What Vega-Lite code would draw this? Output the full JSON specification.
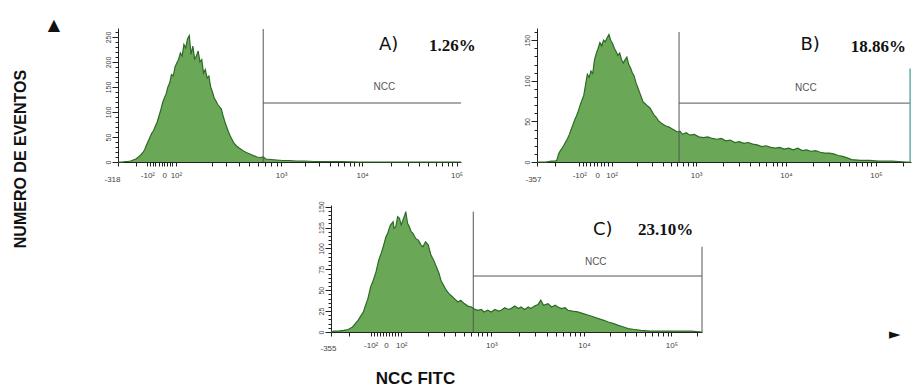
{
  "$schema": "https://vega.github.io/schema/vega-lite/v6.json",
  "background": "white",
  "padding": {"left": 12, "top": 17, "right": 0, "bottom": 0},
  "title": {"text": "NUMERO DE EVENTOS", "orient": "left", "anchor": "middle", "font": "Liberation Sans", "fontSize": 16, "fontWeight": "bold", "color": "#111", "offset": 19, "frame": "group", "dx": -131},
  "config": {
    "view": {"stroke": null},
    "axis": {"grid": false, "domainColor": "#222", "tickColor": "#222", "labelColor": "#444", "labelFont": "Liberation Sans", "labelFontSize": 7, "domainWidth": 1, "tickWidth": 1}
  },
  "datasets": {
    "A": [
      {"x": 0, "y": 0}, {"x": 0.05, "y": 0}, {"x": 0.08, "y": 1}, {"x": 0.11, "y": 1}, {"x": 0.14, "y": 2}, {"x": 0.17, "y": 4},
      {"x": 0.2, "y": 6}, {"x": 0.23, "y": 10}, {"x": 0.26, "y": 15}, {"x": 0.28, "y": 19}, {"x": 0.3, "y": 25}, {"x": 0.32, "y": 34},
      {"x": 0.34, "y": 42}, {"x": 0.36, "y": 50}, {"x": 0.38, "y": 58}, {"x": 0.4, "y": 63}, {"x": 0.42, "y": 72}, {"x": 0.44, "y": 80},
      {"x": 0.46, "y": 92}, {"x": 0.48, "y": 104}, {"x": 0.5, "y": 118}, {"x": 0.52, "y": 128}, {"x": 0.54, "y": 136}, {"x": 0.56, "y": 150},
      {"x": 0.58, "y": 158}, {"x": 0.6, "y": 175}, {"x": 0.62, "y": 172}, {"x": 0.64, "y": 190}, {"x": 0.66, "y": 198}, {"x": 0.68, "y": 205},
      {"x": 0.7, "y": 218}, {"x": 0.72, "y": 212}, {"x": 0.74, "y": 235}, {"x": 0.76, "y": 228}, {"x": 0.78, "y": 246}, {"x": 0.8, "y": 253},
      {"x": 0.82, "y": 215}, {"x": 0.84, "y": 232}, {"x": 0.86, "y": 206}, {"x": 0.88, "y": 212}, {"x": 0.9, "y": 222}, {"x": 0.92, "y": 200},
      {"x": 0.94, "y": 205}, {"x": 0.96, "y": 178}, {"x": 0.98, "y": 185}, {"x": 1.0, "y": 168}, {"x": 1.02, "y": 172}, {"x": 1.04, "y": 150},
      {"x": 1.06, "y": 140}, {"x": 1.08, "y": 128}, {"x": 1.1, "y": 122}, {"x": 1.12, "y": 115}, {"x": 1.14, "y": 110}, {"x": 1.16, "y": 106},
      {"x": 1.18, "y": 92}, {"x": 1.2, "y": 80}, {"x": 1.22, "y": 70}, {"x": 1.24, "y": 60}, {"x": 1.26, "y": 52}, {"x": 1.28, "y": 45},
      {"x": 1.3, "y": 38}, {"x": 1.33, "y": 32}, {"x": 1.36, "y": 28}, {"x": 1.4, "y": 23}, {"x": 1.44, "y": 19}, {"x": 1.48, "y": 16},
      {"x": 1.52, "y": 13}, {"x": 1.56, "y": 10}, {"x": 1.6, "y": 9}, {"x": 1.63, "y": 10}, {"x": 1.66, "y": 6}, {"x": 1.72, "y": 5},
      {"x": 1.78, "y": 4}, {"x": 1.85, "y": 3}, {"x": 1.92, "y": 3}, {"x": 2.0, "y": 2}, {"x": 2.1, "y": 2}, {"x": 2.2, "y": 1},
      {"x": 2.35, "y": 1}, {"x": 2.5, "y": 1}, {"x": 2.7, "y": 0}, {"x": 3.0, "y": 0}, {"x": 3.85, "y": 0}
    ],
    "B": [
      {"x": 0, "y": 0}, {"x": 0.1, "y": 0}, {"x": 0.16, "y": 1}, {"x": 0.2, "y": 1}, {"x": 0.22, "y": 2}, {"x": 0.24, "y": 10},
      {"x": 0.26, "y": 14}, {"x": 0.28, "y": 17}, {"x": 0.3, "y": 21}, {"x": 0.32, "y": 25}, {"x": 0.34, "y": 29}, {"x": 0.36, "y": 34},
      {"x": 0.38, "y": 40}, {"x": 0.4, "y": 46}, {"x": 0.42, "y": 52}, {"x": 0.44, "y": 57}, {"x": 0.46, "y": 63}, {"x": 0.48, "y": 70},
      {"x": 0.5, "y": 76}, {"x": 0.52, "y": 82}, {"x": 0.54, "y": 95}, {"x": 0.56, "y": 108}, {"x": 0.58, "y": 104}, {"x": 0.6, "y": 112},
      {"x": 0.62, "y": 109}, {"x": 0.64, "y": 126}, {"x": 0.66, "y": 134}, {"x": 0.68, "y": 140}, {"x": 0.7, "y": 147}, {"x": 0.72, "y": 143},
      {"x": 0.74, "y": 150}, {"x": 0.76, "y": 148}, {"x": 0.78, "y": 153}, {"x": 0.8, "y": 157}, {"x": 0.82, "y": 150}, {"x": 0.84, "y": 146},
      {"x": 0.86, "y": 140}, {"x": 0.88, "y": 136}, {"x": 0.9, "y": 131}, {"x": 0.92, "y": 134}, {"x": 0.94, "y": 126}, {"x": 0.96, "y": 122},
      {"x": 0.98, "y": 126}, {"x": 1.0, "y": 129}, {"x": 1.02, "y": 120}, {"x": 1.04, "y": 116}, {"x": 1.06, "y": 110}, {"x": 1.08, "y": 106},
      {"x": 1.1, "y": 98}, {"x": 1.12, "y": 92}, {"x": 1.14, "y": 86}, {"x": 1.16, "y": 80}, {"x": 1.18, "y": 74}, {"x": 1.2, "y": 72},
      {"x": 1.22, "y": 70}, {"x": 1.24, "y": 68}, {"x": 1.26, "y": 66}, {"x": 1.28, "y": 62}, {"x": 1.3, "y": 58}, {"x": 1.32, "y": 56},
      {"x": 1.35, "y": 51}, {"x": 1.38, "y": 48}, {"x": 1.41, "y": 46}, {"x": 1.44, "y": 44}, {"x": 1.47, "y": 43}, {"x": 1.5, "y": 41},
      {"x": 1.53, "y": 39}, {"x": 1.56, "y": 37}, {"x": 1.59, "y": 38}, {"x": 1.62, "y": 34}, {"x": 1.66, "y": 36}, {"x": 1.7, "y": 33},
      {"x": 1.75, "y": 34}, {"x": 1.8, "y": 31}, {"x": 1.85, "y": 30}, {"x": 1.9, "y": 31}, {"x": 1.95, "y": 29}, {"x": 2.0, "y": 28},
      {"x": 2.05, "y": 29}, {"x": 2.1, "y": 26}, {"x": 2.15, "y": 27}, {"x": 2.2, "y": 24}, {"x": 2.25, "y": 25}, {"x": 2.3, "y": 23},
      {"x": 2.35, "y": 24}, {"x": 2.4, "y": 22}, {"x": 2.45, "y": 21}, {"x": 2.5, "y": 19}, {"x": 2.55, "y": 20}, {"x": 2.6, "y": 18},
      {"x": 2.65, "y": 17}, {"x": 2.7, "y": 18}, {"x": 2.75, "y": 16}, {"x": 2.8, "y": 17}, {"x": 2.85, "y": 15}, {"x": 2.9, "y": 17},
      {"x": 2.95, "y": 14}, {"x": 3.0, "y": 15}, {"x": 3.05, "y": 13}, {"x": 3.1, "y": 14}, {"x": 3.15, "y": 12}, {"x": 3.2, "y": 11},
      {"x": 3.25, "y": 11}, {"x": 3.3, "y": 10}, {"x": 3.35, "y": 8}, {"x": 3.4, "y": 7}, {"x": 3.45, "y": 5}, {"x": 3.5, "y": 3},
      {"x": 3.6, "y": 2}, {"x": 3.7, "y": 2}, {"x": 3.8, "y": 1}, {"x": 3.95, "y": 1}, {"x": 4.1, "y": 0}, {"x": 4.16, "y": 0}
    ],
    "C": [
      {"x": 0, "y": 0}, {"x": 0.03, "y": 1}, {"x": 0.08, "y": 1}, {"x": 0.14, "y": 2}, {"x": 0.19, "y": 3}, {"x": 0.24, "y": 6},
      {"x": 0.27, "y": 10}, {"x": 0.3, "y": 14}, {"x": 0.33, "y": 19}, {"x": 0.36, "y": 24}, {"x": 0.38, "y": 31}, {"x": 0.41, "y": 40},
      {"x": 0.44, "y": 54}, {"x": 0.47, "y": 62}, {"x": 0.5, "y": 72}, {"x": 0.53, "y": 86}, {"x": 0.56, "y": 95}, {"x": 0.58, "y": 102},
      {"x": 0.6, "y": 110}, {"x": 0.61, "y": 114}, {"x": 0.63, "y": 118}, {"x": 0.64, "y": 122}, {"x": 0.66, "y": 128}, {"x": 0.69, "y": 132},
      {"x": 0.7, "y": 124}, {"x": 0.72, "y": 126}, {"x": 0.74, "y": 138}, {"x": 0.76, "y": 136}, {"x": 0.78, "y": 128}, {"x": 0.8, "y": 134},
      {"x": 0.82, "y": 140}, {"x": 0.83, "y": 144}, {"x": 0.85, "y": 130}, {"x": 0.87, "y": 126}, {"x": 0.89, "y": 120}, {"x": 0.91, "y": 118},
      {"x": 0.94, "y": 112}, {"x": 0.97, "y": 110}, {"x": 1.0, "y": 104}, {"x": 1.02, "y": 102}, {"x": 1.05, "y": 108}, {"x": 1.08, "y": 104},
      {"x": 1.11, "y": 92}, {"x": 1.14, "y": 86}, {"x": 1.17, "y": 78}, {"x": 1.2, "y": 70}, {"x": 1.22, "y": 62}, {"x": 1.25, "y": 56},
      {"x": 1.28, "y": 50}, {"x": 1.31, "y": 46}, {"x": 1.33, "y": 44}, {"x": 1.37, "y": 40}, {"x": 1.41, "y": 36}, {"x": 1.44, "y": 38},
      {"x": 1.48, "y": 34}, {"x": 1.52, "y": 31}, {"x": 1.56, "y": 30}, {"x": 1.6, "y": 27}, {"x": 1.63, "y": 26}, {"x": 1.67, "y": 27},
      {"x": 1.7, "y": 24}, {"x": 1.74, "y": 26}, {"x": 1.78, "y": 24}, {"x": 1.82, "y": 27}, {"x": 1.86, "y": 25}, {"x": 1.89, "y": 26},
      {"x": 1.93, "y": 29}, {"x": 1.97, "y": 27}, {"x": 2.0, "y": 28}, {"x": 2.04, "y": 31}, {"x": 2.08, "y": 28}, {"x": 2.11, "y": 30},
      {"x": 2.15, "y": 27}, {"x": 2.19, "y": 30}, {"x": 2.22, "y": 28}, {"x": 2.26, "y": 31}, {"x": 2.3, "y": 33}, {"x": 2.33, "y": 38},
      {"x": 2.36, "y": 32}, {"x": 2.41, "y": 34}, {"x": 2.45, "y": 30}, {"x": 2.49, "y": 32}, {"x": 2.52, "y": 30}, {"x": 2.56, "y": 28},
      {"x": 2.6, "y": 29}, {"x": 2.63, "y": 26}, {"x": 2.68, "y": 25}, {"x": 2.74, "y": 24}, {"x": 2.8, "y": 22}, {"x": 2.86, "y": 20},
      {"x": 2.92, "y": 18}, {"x": 2.97, "y": 16}, {"x": 3.03, "y": 14}, {"x": 3.08, "y": 12}, {"x": 3.14, "y": 10}, {"x": 3.19, "y": 8},
      {"x": 3.25, "y": 6}, {"x": 3.3, "y": 4}, {"x": 3.37, "y": 3}, {"x": 3.44, "y": 2}, {"x": 3.55, "y": 1}, {"x": 3.63, "y": 1},
      {"x": 3.8, "y": 1}, {"x": 4.0, "y": 1}, {"x": 4.12, "y": 0}
    ],
    "gates": [
      {"p": "A", "k": "gate", "x": 1.63, "x2": 1.63, "y": 0, "y2": 266},
      {"p": "A", "k": "gate", "x": 1.63, "x2": 3.85, "y": 118, "y2": 118},
      {"p": "B", "k": "gate", "x": 1.58, "x2": 1.58, "y": 0, "y2": 160},
      {"p": "B", "k": "gate", "x": 1.58, "x2": 4.15, "y": 72.5, "y2": 72.5},
      {"p": "B", "k": "edge", "x": 4.15, "x2": 4.15, "y": 0, "y2": 115},
      {"p": "C", "k": "gate", "x": 1.58, "x2": 1.58, "y": 0, "y2": 144},
      {"p": "C", "k": "gate", "x": 1.58, "x2": 4.12, "y": 67, "y2": 67},
      {"p": "C", "k": "gate", "x": 4.12, "x2": 4.12, "y": 0, "y2": 102}
    ],
    "labels": [
      {"p": "A", "k": "letter", "x": 2.93, "y": 234, "t": "A)"},
      {"p": "A", "k": "pct", "x": 3.49, "y": 232, "t": "1.26%"},
      {"p": "A", "k": "ncc", "x": 2.99, "y": 150, "t": "NCC"},
      {"p": "A", "k": "arrow", "x": -0.72, "y": 274, "t": "▲"},
      {"p": "B", "k": "letter", "x": 2.93, "y": 144, "t": "B)"},
      {"p": "B", "k": "pct", "x": 3.49, "y": 142, "t": "18.86%"},
      {"p": "B", "k": "ncc", "x": 2.99, "y": 91, "t": "NCC"},
      {"p": "C", "k": "letter", "x": 2.91, "y": 122, "t": "C)"},
      {"p": "C", "k": "pct", "x": 3.41, "y": 122, "t": "23.10%"},
      {"p": "C", "k": "ncc", "x": 2.94, "y": 84, "t": "NCC"},
      {"p": "C", "k": "arrow", "x": 6.26, "y": -2, "t": "►"}
    ]
  },
  "spacing": 17,
  "vconcat": [
    {
      "bounds": "flush",
      "spacing": 76,
      "hconcat": [
        {
          "width": 343,
          "height": 134,
          "encoding": {
            "x": {"field": "x", "type": "quantitative", "scale": {"domain": [0, 3.85]},
              "axis": {"title": null, "values": [0, 0.2, 0.33, 0.36, 0.39, 0.42, 0.46, 0.49, 0.52, 0.55, 0.58, 0.61, 0.65, 1.05, 1.21, 1.36, 1.47, 1.57, 1.65, 1.72, 1.78, 1.83, 2.1, 2.26, 2.38, 2.47, 2.54, 2.6, 2.65, 2.7, 2.74, 3.06, 3.25, 3.38, 3.48, 3.57, 3.64, 3.7, 3.75, 3.8],
                "labelExpr": "indexof([0,0.33,0.52,0.65,1.83,2.74,3.8], datum.value) >= 0 ? ['-318','-10²','0','10²','10³','10⁴','10⁵'][indexof([0,0.33,0.52,0.65,1.83,2.74,3.8], datum.value)] : ''",
                "tickSize": 4, "labelFontSize": 8, "labelOverlap": false, "labelFlush": false,
                "labelPadding": {"condition": {"test": "datum.value == 0", "value": 9}, "value": 5},
                "labelOffset": {"condition": {"test": "datum.value == 0", "value": -6}, "value": 0}}},
            "y": {"field": "y", "type": "quantitative", "scale": {"domain": [0, 268]},
              "axis": {"title": null, "values": [0, 10, 20, 30, 40, 50, 60, 70, 80, 90, 100, 110, 120, 130, 140, 150, 160, 170, 180, 190, 200, 210, 220, 230, 240, 250, 260],
                "labelExpr": "datum.value % 50 == 0 ? datum.label : ''", "labelAngle": -90, "labelPadding": 1,
                "tickSize": {"condition": {"test": "datum.value % 50 == 0", "value": 6}, "value": 3}}}
          },
          "layer": [
            {"data": {"name": "A"}, "mark": {"type": "area", "color": "#6aa858"}},
            {"data": {"name": "A"}, "mark": {"type": "line", "color": "#2d6a25", "strokeWidth": 1.2}},
            {"data": {"name": "gates"}, "transform": [{"filter": "datum.p == 'A'"}], "mark": {"type": "rule", "color": "#555", "strokeWidth": 1},
              "encoding": {"x2": {"field": "x2"}, "y2": {"field": "y2"}}},
            {"data": {"name": "labels"}, "transform": [{"filter": "datum.p == 'A' && datum.k == 'letter'"}],
              "mark": {"type": "text", "align": "left", "baseline": "middle", "font": "DejaVu Sans", "fontSize": 18, "color": "#111"}, "encoding": {"text": {"field": "t"}}},
            {"data": {"name": "labels"}, "transform": [{"filter": "datum.p == 'A' && datum.k == 'pct'"}],
              "mark": {"type": "text", "align": "left", "baseline": "middle", "font": "Liberation Serif", "fontWeight": "bold", "fontSize": 17, "color": "#111"}, "encoding": {"text": {"field": "t"}}},
            {"data": {"name": "labels"}, "transform": [{"filter": "datum.p == 'A' && datum.k == 'ncc'"}],
              "mark": {"type": "text", "align": "center", "baseline": "middle", "font": "Liberation Sans", "fontSize": 10, "color": "#555"}, "encoding": {"text": {"field": "t"}}},
            {"data": {"name": "labels"}, "transform": [{"filter": "datum.p == 'A' && datum.k == 'arrow'"}],
              "mark": {"type": "text", "align": "center", "baseline": "middle", "font": "DejaVu Sans", "fontSize": 16, "color": "#111"}, "encoding": {"text": {"field": "t"}}}
          ]
        },
        {
          "width": 374,
          "height": 134,
          "encoding": {
            "x": {"field": "x", "type": "quantitative", "scale": {"domain": [0, 4.16]},
              "axis": {"title": null, "values": [0, 0.2, 0.47, 0.51, 0.55, 0.59, 0.63, 0.67, 0.71, 0.75, 0.79, 0.83, 1.11, 1.28, 1.4, 1.49, 1.56, 1.62, 1.68, 1.73, 1.77, 2.07, 2.25, 2.37, 2.47, 2.55, 2.62, 2.67, 2.72, 2.77, 3.07, 3.25, 3.37, 3.47, 3.55, 3.62, 3.67, 3.72, 3.77, 4.07],
                "labelExpr": "indexof([0,0.47,0.67,0.83,1.77,2.77,3.77], datum.value) >= 0 ? ['-357','-10²','0','10²','10³','10⁴','10⁵'][indexof([0,0.47,0.67,0.83,1.77,2.77,3.77], datum.value)] : ''",
                "tickSize": 4, "labelFontSize": 8, "labelOverlap": false, "labelFlush": false,
                "labelPadding": {"condition": {"test": "datum.value == 0", "value": 9}, "value": 5},
                "labelOffset": {"condition": {"test": "datum.value == 0", "value": -4}, "value": 0}}},
            "y": {"field": "y", "type": "quantitative", "scale": {"domain": [0, 165]},
              "axis": {"title": null, "values": [0, 10, 20, 30, 40, 50, 60, 70, 80, 90, 100, 110, 120, 130, 140, 150, 160],
                "labelExpr": "datum.value % 50 == 0 ? datum.label : ''", "labelAngle": -90, "labelPadding": 1,
                "tickSize": {"condition": {"test": "datum.value % 50 == 0", "value": 6}, "value": 3}}}
          },
          "layer": [
            {"data": {"name": "B"}, "mark": {"type": "area", "color": "#6aa858"}},
            {"data": {"name": "B"}, "mark": {"type": "line", "color": "#2d6a25", "strokeWidth": 1.2}},
            {"data": {"name": "gates"}, "transform": [{"filter": "datum.p == 'B' && datum.k == 'gate'"}], "mark": {"type": "rule", "color": "#555", "strokeWidth": 1},
              "encoding": {"x2": {"field": "x2"}, "y2": {"field": "y2"}}},
            {"data": {"name": "gates"}, "transform": [{"filter": "datum.p == 'B' && datum.k == 'edge'"}], "mark": {"type": "rule", "color": "#5fb0a4", "strokeWidth": 1.5},
              "encoding": {"x2": {"field": "x2"}, "y2": {"field": "y2"}}},
            {"data": {"name": "labels"}, "transform": [{"filter": "datum.p == 'B' && datum.k == 'letter'"}],
              "mark": {"type": "text", "align": "left", "baseline": "middle", "font": "DejaVu Sans", "fontSize": 18, "color": "#111"}, "encoding": {"text": {"field": "t"}}},
            {"data": {"name": "labels"}, "transform": [{"filter": "datum.p == 'B' && datum.k == 'pct'"}],
              "mark": {"type": "text", "align": "left", "baseline": "middle", "font": "Liberation Serif", "fontWeight": "bold", "fontSize": 17, "color": "#111"}, "encoding": {"text": {"field": "t"}}},
            {"data": {"name": "labels"}, "transform": [{"filter": "datum.p == 'B' && datum.k == 'ncc'"}],
              "mark": {"type": "text", "align": "center", "baseline": "middle", "font": "Liberation Sans", "fontSize": 10, "color": "#555"}, "encoding": {"text": {"field": "t"}}}
          ]
        }
      ]
    },
    {
      "bounds": "flush",
      "spacing": 21,
      "hconcat": [
        {"width": 192, "height": 127, "data": {"values": []}, "mark": {"type": "point", "opacity": 0}},
        {
          "width": 371,
          "height": 127,
          "encoding": {
            "x": {"field": "x", "type": "quantitative", "scale": {"domain": [0, 4.12]},
              "axis": {"values": [0, 0.2, 0.44, 0.48, 0.51, 0.54, 0.575, 0.61, 0.645, 0.68, 0.71, 0.745, 0.78, 1.08, 1.26, 1.38, 1.48, 1.56, 1.63, 1.68, 1.73, 1.78, 2.09, 2.27, 2.4, 2.5, 2.58, 2.65, 2.71, 2.76, 2.81, 3.1, 3.27, 3.39, 3.49, 3.57, 3.63, 3.69, 3.74, 3.78, 4.07],
                "labelExpr": "indexof([0,0.44,0.61,0.78,1.78,2.81,3.78], datum.value) >= 0 ? ['-355','-10²','0','10²','10³','10⁴','10⁵'][indexof([0,0.44,0.61,0.78,1.78,2.81,3.78], datum.value)] : ''",
                "tickSize": 4, "labelFontSize": 8, "labelOverlap": false, "labelFlush": false,
                "labelPadding": {"condition": {"test": "datum.value == 0", "value": 8}, "value": 5},
                "labelOffset": {"condition": {"test": "datum.value == 0", "value": -3}, "value": 0},
                "title": "NCC FITC", "titleX": 84, "titleY": 46, "titleAlign": "center", "titleBaseline": "middle",
                "titleFont": "Liberation Sans", "titleFontWeight": "bold", "titleFontSize": 17, "titleColor": "#111"}},
            "y": {"field": "y", "type": "quantitative", "scale": {"domain": [0, 152]},
              "axis": {"title": null, "values": [0, 5, 10, 15, 20, 25, 30, 35, 40, 45, 50, 55, 60, 65, 70, 75, 80, 85, 90, 95, 100, 105, 110, 115, 120, 125, 130, 135, 140, 145, 150],
                "labelExpr": "datum.value % 25 == 0 ? datum.label : ''", "labelAngle": -90, "labelPadding": 1,
                "tickSize": {"condition": {"test": "datum.value % 25 == 0", "value": 6}, "value": 3}}}
          },
          "layer": [
            {"data": {"name": "C"}, "mark": {"type": "area", "color": "#6aa858"}},
            {"data": {"name": "C"}, "mark": {"type": "line", "color": "#2d6a25", "strokeWidth": 1.2}},
            {"data": {"name": "gates"}, "transform": [{"filter": "datum.p == 'C'"}], "mark": {"type": "rule", "color": "#555", "strokeWidth": 1},
              "encoding": {"x2": {"field": "x2"}, "y2": {"field": "y2"}}},
            {"data": {"name": "labels"}, "transform": [{"filter": "datum.p == 'C' && datum.k == 'letter'"}],
              "mark": {"type": "text", "align": "left", "baseline": "middle", "font": "DejaVu Sans", "fontSize": 18, "color": "#111"}, "encoding": {"text": {"field": "t"}}},
            {"data": {"name": "labels"}, "transform": [{"filter": "datum.p == 'C' && datum.k == 'pct'"}],
              "mark": {"type": "text", "align": "left", "baseline": "middle", "font": "Liberation Serif", "fontWeight": "bold", "fontSize": 17, "color": "#111"}, "encoding": {"text": {"field": "t"}}},
            {"data": {"name": "labels"}, "transform": [{"filter": "datum.p == 'C' && datum.k == 'ncc'"}],
              "mark": {"type": "text", "align": "center", "baseline": "middle", "font": "Liberation Sans", "fontSize": 10, "color": "#555"}, "encoding": {"text": {"field": "t"}}},
            {"data": {"name": "labels"}, "transform": [{"filter": "datum.p == 'C' && datum.k == 'arrow'"}],
              "mark": {"type": "text", "align": "center", "baseline": "middle", "font": "DejaVu Sans", "fontSize": 15, "color": "#111"}, "encoding": {"text": {"field": "t"}}}
          ]
        }
      ]
    }
  ]
}
